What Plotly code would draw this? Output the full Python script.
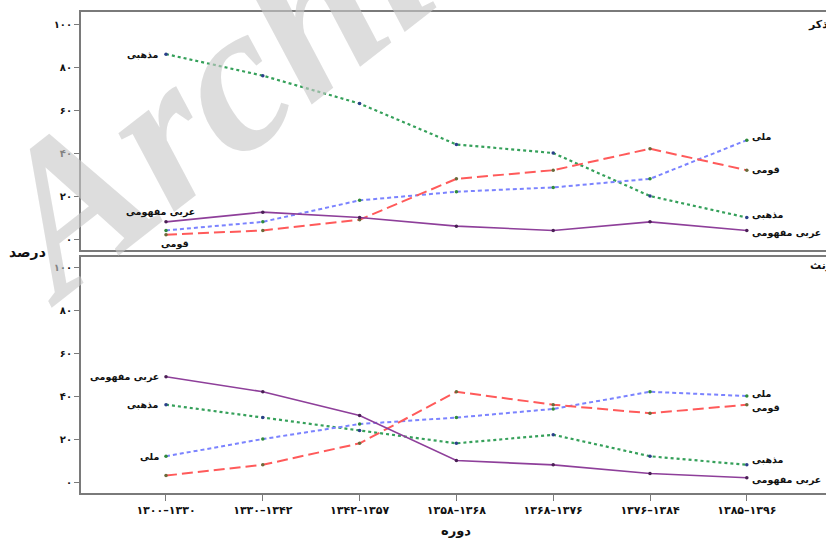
import plotly.graph_objects as go

periods = ["۱۳۰۰–۱۳۳۰", "۱۳۳۰–۱۳۴۲", "۱۳۴۲–۱۳۵۷", "۱۳۵۸–۱۳۶۸",
           "۱۳۶۸–۱۳۷۶", "۱۳۷۶–۱۳۸۴", "۱۳۸۵–۱۳۹۶"]
series_names = ["مذهبی", "ملی", "قومی", "عربی مفهومی"]

male_religious = [86, 76, 63, 44, 40, 20, 10]
male_national = [4, 8, 18, 22, 24, 28, 46]
male_ethnic = [2, 4, 9, 28, 32, 42, 32]
male_arabic = [8, 12.5, 10, 6, 4, 8, 4]

female_religious = [36, 30, 24, 18, 22, 12, 8]
female_national = [12, 20, 27, 30, 34, 42, 40]
female_ethnic = [3, 8, 18, 42, 36, 32, 36]
female_arabic = [49, 42, 31, 10, 8, 4, 2]

ytick_vals = [0, 20, 40, 60, 80, 100]
ytick_text = ["۰", "۲۰", "۴۰", "۶۰", "۸۰", "۱۰۰"]

panel_titles = ["مذکر", "مؤنث"]
y_title = "درصد"
x_title = "دوره"
watermark = "Archive"

FONT = "DejaVu Sans"
styles = {
    "مذهبی": dict(color="#35a05a", dash="dot", width=2.2, mcolor="#2b3f8a"),
    "ملی": dict(color="#7b83ff", dash="4px,3px", width=2, mcolor="#2f8a3a"),
    "قومی": dict(color="#ff5a5a", dash="11px,5px", width=2, mcolor="#6a6a3a"),
    "عربی مفهومی": dict(color="#8e3f9a", dash="solid", width=1.6, mcolor="#4a1f55"),
}

W, H = 826, 540
L, R, T, B = 81, 0, 12, 47
pw, ph = W - L - R, H - T - B


def px(xp):
    return (xp - L) / pw


def py(yp):
    return (H - B - yp) / ph


fig = go.Figure()

# watermark
fig.add_annotation(x=px(279), y=py(40), xref="paper", yref="paper",
                   xanchor="center", yanchor="middle",
                   text=watermark, showarrow=False, textangle=-38,
                   font=dict(family="Liberation Serif", size=210,
                             color="rgba(200,200,200,0.62)",
                             weight="bold", style="italic"))

panels = [
    ("x", "y", [male_religious, male_national, male_ethnic, male_arabic]),
    ("x2", "y2", [female_religious, female_national, female_ethnic, female_arabic]),
]

for xa, ya, data in panels:
    for name, vals in zip(series_names, data):
        s = styles[name]
        fig.add_trace(go.Scatter(
            x=periods, y=vals, xaxis=xa, yaxis=ya, mode="lines+markers",
            line=dict(color=s["color"], dash=s["dash"], width=s["width"]),
            marker=dict(size=3.5, color=s["mcolor"]),
            showlegend=False, name=name))

# end labels: (x axis, y axis, series index, point index, xanchor, xshift, yshift)
label_specs = [
    ("x", "y", 0, 0, "right", -5, 0),
    ("x", "y", 3, 0, "center", -5, 10),
    ("x", "y", 2, 0, "center", 9, -9),
    ("x", "y", 1, 6, "left", 3, 4),
    ("x", "y", 2, 6, "left", 3, 0),
    ("x", "y", 0, 6, "left", 3, 3),
    ("x", "y", 3, 6, "left", 3, -3),
    ("x2", "y2", 3, 0, "right", -5, 0),
    ("x2", "y2", 0, 0, "right", -5, 0),
    ("x2", "y2", 1, 0, "right", -5, 0),
    ("x2", "y2", 1, 6, "left", 3, 3),
    ("x2", "y2", 2, 6, "left", 3, -3),
    ("x2", "y2", 0, 6, "left", 3, 5),
    ("x2", "y2", 3, 6, "left", 3, -2),
]
for xa, ya, si, idx, anc, xs, ys in label_specs:
    data = panels[0][2] if xa == "x" else panels[1][2]
    fig.add_annotation(x=periods[idx], y=data[si][idx], xref=xa, yref=ya,
                       text="<b>" + series_names[si] + "</b>", showarrow=False,
                       xanchor=anc, yanchor="middle", xshift=xs, yshift=ys,
                       font=dict(family=FONT, size=9.5, color="#111"))

fig.add_annotation(x=px(806), y=py(24), xref="paper", yref="paper",
                   text="<b>" + panel_titles[0] + "</b>", showarrow=False,
                   xanchor="left", yanchor="middle",
                   font=dict(family=FONT, size=11, color="#111"))
fig.add_annotation(x=px(808), y=py(265), xref="paper", yref="paper",
                   text="<b>" + panel_titles[1] + "</b>", showarrow=False,
                   xanchor="left", yanchor="middle",
                   font=dict(family=FONT, size=11, color="#111"))
fig.add_annotation(x=px(27), y=py(252), xref="paper", yref="paper",
                   text="<b>" + y_title + "</b>", showarrow=False,
                   xanchor="center", yanchor="middle",
                   font=dict(family=FONT, size=14, color="#111"))
fig.add_annotation(x=px(456), y=py(530), xref="paper", yref="paper",
                   text="<b>" + x_title + "</b>", showarrow=False,
                   xanchor="center", yanchor="middle",
                   font=dict(family=FONT, size=13, color="#111"))

xrange = [-0.878, 6.818]
axis_line = dict(showline=True, linecolor="#7a7a7a", linewidth=2)

fig.update_layout(
    width=W, height=H, plot_bgcolor="white", paper_bgcolor="white",
    margin=dict(l=L, r=R, t=T, b=B, autoexpand=False),
    xaxis=dict(domain=[0, 1], range=xrange, anchor="y", mirror=True,
               showticklabels=False, ticks="", showgrid=False, zeroline=False,
               **axis_line),
    yaxis=dict(domain=[py(250), 1], range=[-5.1, 105.6], anchor="x",
               tickvals=ytick_vals, ticktext=["<b>" + t + "</b>" for t in ytick_text],
               ticks="outside", ticklen=5, tickcolor="#7a7a7a",
               showgrid=False, zeroline=False,
               tickfont=dict(family=FONT, size=10, color="#111"), **axis_line),
    xaxis2=dict(domain=[0, 1], range=xrange, anchor="y2", mirror=True,
                ticks="outside", ticklen=6, tickcolor="#7a7a7a",
                tickvals=periods, ticktext=["<b>" + p + "</b>" for p in periods],
                tickfont=dict(family=FONT, size=11, color="#111"),
                showgrid=False, zeroline=False, **axis_line),
    yaxis2=dict(domain=[0, py(257)], range=[-5.1, 104.7], anchor="x2",
                tickvals=ytick_vals, ticktext=["<b>" + t + "</b>" for t in ytick_text],
                ticks="outside", ticklen=5, tickcolor="#7a7a7a",
                showgrid=False, zeroline=False,
                tickfont=dict(family=FONT, size=10, color="#111"), **axis_line),
)

fig.write_html("out.html", config={"displayModeBar": False},
               post_script="document.body.style.margin='0';document.body.style.overflow='hidden';")
